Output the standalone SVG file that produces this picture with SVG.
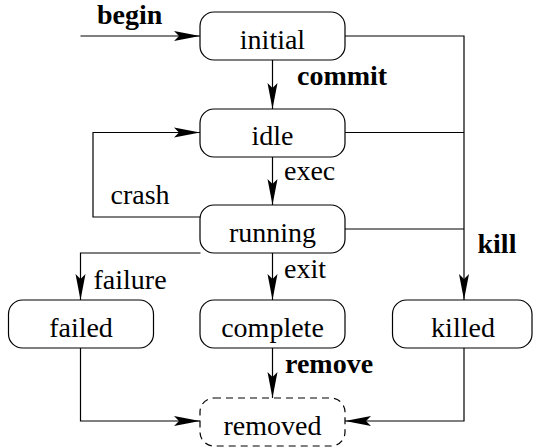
<svg xmlns="http://www.w3.org/2000/svg" width="533" height="448" viewBox="0 0 533 448">
  <style>
    .box { fill: #ffffff; stroke: #000000; stroke-width: 1.2; }
    .dashed { stroke-dasharray: 7 5; }
    text { font-family: 'Liberation Serif', 'Times New Roman', serif; font-size: 28px; fill: #000000; }
    .name { text-anchor: middle; }
    .bold { font-weight: bold; }
    .wire { fill: none; stroke: #000000; stroke-width: 1.2; }
  </style>
  <defs>
    <!-- notched filled arrowhead -->
    <marker id="arrow" viewBox="-27 -6 28 12" refX="0" refY="0" markerWidth="28" markerHeight="12" markerUnits="userSpaceOnUse" orient="auto">
      <path d="M0,0 L-26,-5 L-21,0 L-26,5 Z" fill="#000000"/>
    </marker>
  </defs>
  <rect width="533" height="448" fill="#ffffff"/>

  <!-- transitions -->
  <g id="connectors">
    <path class="wire" d="M80.5,36 H200" marker-end="url(#arrow)"/>
    <path class="wire" d="M272.5,60 V109" marker-end="url(#arrow)"/>
    <path class="wire" d="M345,36 H464 V300" marker-end="url(#arrow)"/>
    <path class="wire" d="M345,132.5 H464"/>
    <path class="wire" d="M345,229 H464"/>
    <path class="wire" d="M201,217 H93 V132.5 H200" marker-end="url(#arrow)"/>
    <path class="wire" d="M272.5,157 V205" marker-end="url(#arrow)"/>
    <path class="wire" d="M200.5,253 H80.5 V300" marker-end="url(#arrow)"/>
    <path class="wire" d="M272.5,253 V300" marker-end="url(#arrow)"/>
    <path class="wire" d="M272.5,348 V398" marker-end="url(#arrow)"/>
    <path class="wire" d="M80.5,348 V421 H200" marker-end="url(#arrow)"/>
    <path class="wire" d="M464,348 V421 H345" marker-end="url(#arrow)"/>

    <text class="bold" x="97" y="24">begin</text>
    <text class="bold" x="297" y="85">commit</text>
    <text x="284" y="180">exec</text>
    <text x="110.5" y="204">crash</text>
    <text class="bold" x="477.5" y="253">kill</text>
    <text x="284" y="277.5">exit</text>
    <text x="93.5" y="289">failure</text>
    <text class="bold" x="285" y="372.5">remove</text>
  </g>

  <!-- states -->
  <g id="initial">
    <rect class="box" x="200" y="12" width="145" height="48" rx="14"/>
    <text class="name" x="272.5" y="49">initial</text>
  </g>
  <g id="idle">
    <rect class="box" x="200" y="109" width="145" height="48" rx="14"/>
    <text class="name" x="272.5" y="145">idle</text>
  </g>
  <g id="running">
    <rect class="box" x="200" y="205" width="145" height="48" rx="14"/>
    <text class="name" x="272.5" y="242">running</text>
  </g>
  <g id="failed">
    <rect class="box" x="8.5" y="300" width="145" height="48" rx="14"/>
    <text class="name" x="81" y="337">failed</text>
  </g>
  <g id="complete">
    <rect class="box" x="200" y="300" width="145" height="48" rx="14"/>
    <text class="name" x="272.5" y="337">complete</text>
  </g>
  <g id="killed">
    <rect class="box" x="392.5" y="300" width="139.5" height="48" rx="14"/>
    <text class="name" x="463" y="337">killed</text>
  </g>
  <g id="removed">
    <rect class="box dashed" x="200" y="398" width="145" height="48" rx="14"/>
    <text class="name" x="272.5" y="434.5">removed</text>
  </g>
</svg>
